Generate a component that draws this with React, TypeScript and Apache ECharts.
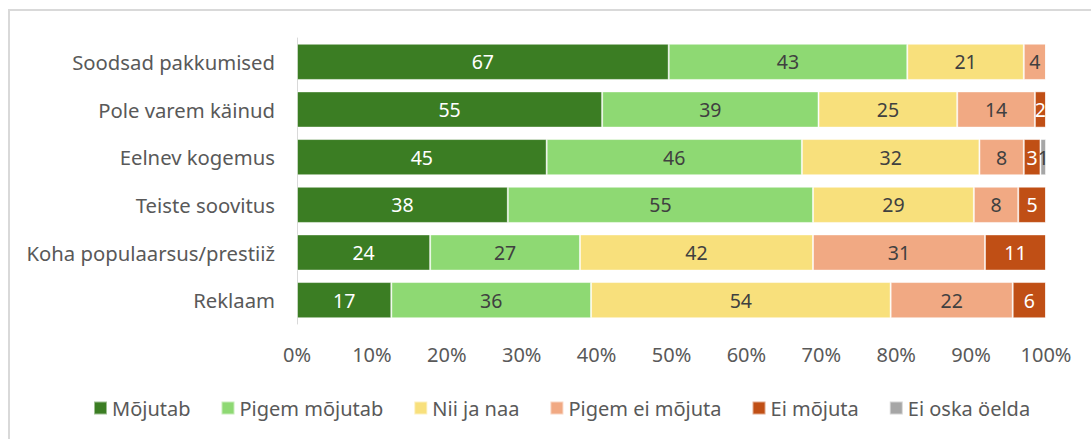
import React, { useEffect, useRef } from "react";
import * as echarts from "echarts";

const categories = [
  "Soodsad pakkumised",
  "Pole varem käinud",
  "Eelnev kogemus",
  "Teiste soovitus",
  "Koha populaarsus/prestiiž",
  "Reklaam",
];

const seriesNames = [
  "Mõjutab",
  "Pigem mõjutab",
  "Nii ja naa",
  "Pigem ei mõjuta",
  "Ei mõjuta",
  "Ei oska öelda",
];

const mojutab = [67, 55, 45, 38, 24, 17];
const pigemMojutab = [43, 39, 46, 55, 27, 36];
const niiJaNaa = [21, 25, 32, 29, 42, 54];
const pigemEiMojuta = [4, 14, 8, 8, 31, 22];
const eiMojuta = [0, 2, 3, 5, 11, 6];
const eiOskaOelda = [0, 0, 1, 0, 0, 0];

const xTicks = [0, 10, 20, 30, 40, 50, 60, 70, 80, 90, 100];

const colors = ["#3B7D23", "#8ED973", "#F8E07C", "#F1A983", "#C04F15", "#A6A6A6"];
const labelColors = ["#FFFFFF", "#404040", "#404040", "#404040", "#FFFFFF", "#404040"];

export default function App() {
  const ref = useRef<HTMLDivElement>(null);
  useEffect(() => {
    if (!ref.current) return;
    const chart = echarts.init(ref.current, undefined, { renderer: "svg" });
    const all = [mojutab, pigemMojutab, niiJaNaa, pigemEiMojuta, eiMojuta, eiOskaOelda];
    const totals = categories.map((_, i) => all.reduce((s, arr) => s + arr[i], 0));
    const font = "'Noto Sans', sans-serif";
    chart.setOption({
      animation: false,
      textStyle: { fontFamily: font },
      graphic: [
        {
          type: "rect",
          shape: { x: 9, y: 10, width: 1200, height: 600 },
          style: { fill: "none", stroke: "#D9D9D9", lineWidth: 2 },
          silent: true,
        },
      ],
      grid: { left: 297, right: 45, top: 38, bottom: 115, containLabel: false },
      legend: {
        data: seriesNames,
        left: 93,
        top: 398,
        padding: 0,
        icon: "rect",
        itemWidth: 13,
        itemHeight: 13,
        itemGap: 30,
        textStyle: { fontSize: 20, color: "#595959", fontFamily: font },
      },
      xAxis: {
        type: "value",
        min: xTicks[0],
        max: xTicks[xTicks.length - 1],
        interval: 10,
        axisLine: { show: false },
        axisTick: { show: false },
        splitLine: { show: false },
        axisLabel: {
          formatter: "{value}%",
          fontSize: 20,
          color: "#595959",
          margin: 20,
          fontFamily: font,
        },
      },
      yAxis: {
        type: "category",
        data: categories,
        inverse: true,
        axisLine: { show: true, lineStyle: { color: "#D9D9D9", width: 1 } },
        axisTick: { show: false },
        axisLabel: { fontSize: 20.3, color: "#595959", margin: 22, fontFamily: font },
      },
      series: all.map((arr, si) => ({
        name: seriesNames[si],
        type: "bar",
        stack: "total",
        barCategoryGap: "24%",
        itemStyle: { color: colors[si], borderColor: "rgba(255,255,255,0.5)", borderWidth: 1 },
        label: {
          show: true,
          position: "inside",
          fontSize: 19.5,
          color: labelColors[si],
          fontFamily: font,
          formatter: (p: any) => (p.data.raw > 0 ? String(p.data.raw) : ""),
        },
        data: arr.map((v, i) => ({ value: (v / totals[i]) * 100, raw: v })),
      })),
    });
    return () => chart.dispose();
  }, []);
  return (
    <div
      ref={ref}
      style={{ position: "fixed", left: 0, top: 0, width: 1091, height: 439, background: "#fff" }}
    />
  );
}
